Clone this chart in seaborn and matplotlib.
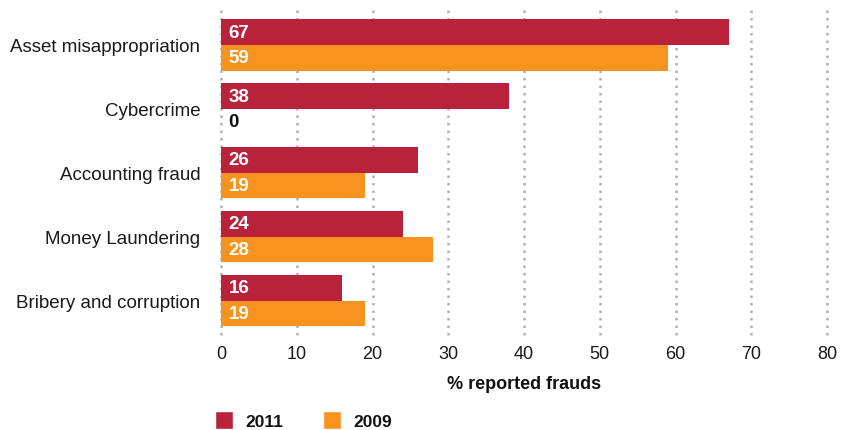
import pandas as pd
import matplotlib.pyplot as plt
import seaborn as sns
from matplotlib.patches import Patch

sns.set_theme(style="white")
plt.rcParams['font.family'] = ['Liberation Sans', 'DejaVu Sans']

# data
categories = ['Asset misappropriation', 'Cybercrime', 'Accounting fraud',
              'Money Laundering', 'Bribery and corruption']
values_2011 = [67, 38, 26, 24, 16]
values_2009 = [59, 0, 19, 28, 19]
years = ['2011', '2009']
colors = {'2011': '#B8223A', '2009': '#F7931E'}
x_ticks = [0, 10, 20, 30, 40, 50, 60, 70, 80]

df = pd.DataFrame({
    'category': categories * 2,
    'year': ['2011'] * len(categories) + ['2009'] * len(categories),
    'value': values_2011 + values_2009,
})

fig = plt.figure(figsize=(8.41, 4.31), dpi=100)
ax = fig.add_axes([0.2628, 0.2262, 0.7206, 0.7413])

sns.barplot(data=df, y='category', x='value', hue='year', hue_order=years,
            palette=colors, orient='h', width=0.8, saturation=1,
            linewidth=0, legend=False, ax=ax, zorder=3)

# value labels inside the bars
for container, year in zip(ax.containers, years):
    for bar in container:
        w = bar.get_width()
        yc = bar.get_y() + bar.get_height() / 2
        ax.text(1.0, yc, f"{w:.0f}", va='center', ha='left',
                fontsize=13.5, fontweight='bold',
                color='white' if w > 0 else '#111111', zorder=4)

ax.set_xlim(0, 80)
ax.set_ylim(4.5, -0.5)
ax.set_xticks(x_ticks)
ax.set_xticklabels([str(t) for t in x_ticks], fontsize=13)
ax.tick_params(axis='y', labelsize=13.5, pad=15, length=0, labelcolor='#1a1a1a')
ax.tick_params(axis='x', pad=9, length=0, labelcolor='#1a1a1a')
for s in ax.spines.values():
    s.set_visible(False)

# dotted vertical grid lines
for t in x_ticks:
    ax.plot([t, t], [-0.55, 4.55], color='#b0b0b0', linestyle=(0, (1, 2)),
            linewidth=1.8, zorder=1, clip_on=False)

ax.set_ylabel('')
ax.set_xlabel('% reported frauds', fontsize=13, fontweight='bold', labelpad=9,
              color='#111111')

handles = [Patch(facecolor=colors[y], label=y) for y in years]
leg = fig.legend(handles=handles, loc='lower left', bbox_to_anchor=(0.237, -0.035),
                 ncol=2, frameon=False, handlelength=1.05, handleheight=1.3,
                 columnspacing=2.3, handletextpad=0.7,
                 prop={'weight': 'bold', 'size': 12.5})
for txt in leg.get_texts():
    txt.set_color('#111111')

fig.savefig('out.png', dpi=100)
